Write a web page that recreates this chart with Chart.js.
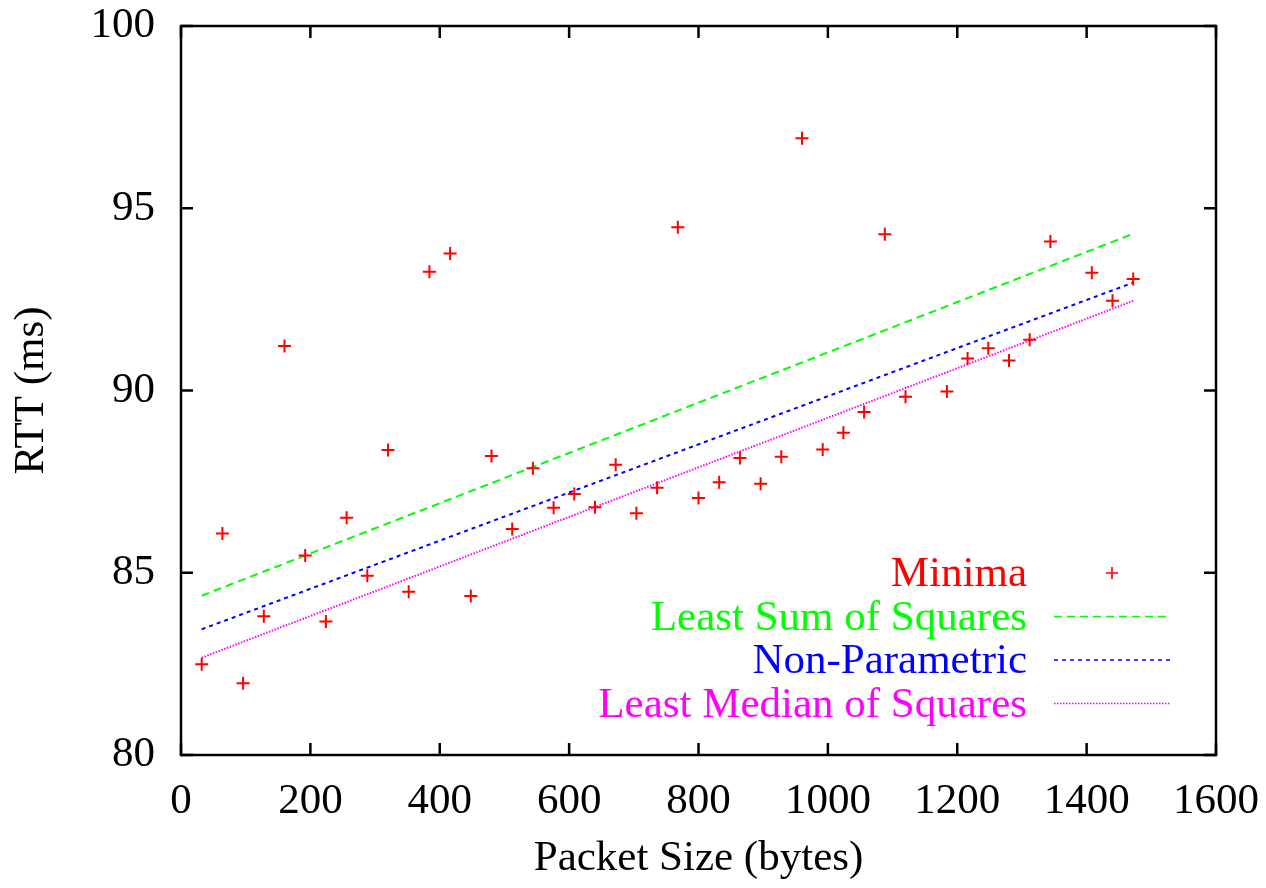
<!DOCTYPE html>
<html><head><meta charset="utf-8">
<script src="https://cdn.jsdelivr.net/npm/chart.js@4.4.0/dist/chart.umd.min.js"></script>
<style>html,body{margin:0;padding:0;background:#fff}#wrap{width:1266px;height:888px}</style>
</head><body><div id="wrap"><canvas id="c" width="1266" height="888"></canvas></div>
<script>
const packetSizes = [32,64,96,128,160,192,224,256,288,320,352,384,416,448,480,512,544,576,608,640,672,704,736,768,800,832,864,896,928,960,992,1024,1056,1088,1120,1184,1216,1248,1280,1312,1344,1408,1440,1472];
const minimaRTT = [82.49,86.08,81.97,83.81,91.22,85.47,83.66,86.51,84.92,88.37,84.48,93.26,93.76,84.36,88.20,86.20,87.87,86.78,87.16,86.80,87.96,86.63,87.33,94.48,87.05,87.48,88.15,87.44,88.18,96.92,88.38,88.84,89.41,94.29,89.83,89.97,90.88,91.16,90.82,91.39,94.09,93.23,92.46,93.06];
const fitX = [32, 1472];
const lssY = [84.37, 94.30];
const npY = [83.45, 92.96];
const lmsY = [82.67, 92.46];
const xTicks = [0,200,400,600,800,1000,1200,1400,1600];
const yTicks = [80,85,90,95,100];
const seriesLabels = ['Minima','Least Sum of Squares','Non-Parametric','Least Median of Squares'];

const FONT = 'Liberation Serif, Times New Roman, serif';
const FS = 43;
const pts = (xs, ys) => xs.map((x, i) => ({x, y: ys[i]}));

const framePlugin = {
  id: 'frame',
  afterDatasetsDraw(chart) {
    const {ctx, chartArea: a, scales: {x, y}} = chart;
    ctx.save();
    ctx.strokeStyle = '#000';
    ctx.lineWidth = 2.5;
    ctx.strokeRect(a.left, a.top, a.right - a.left, a.bottom - a.top);
    const tl = 12;
    ctx.beginPath();
    xTicks.forEach(v => {
      const px = x.getPixelForValue(v);
      ctx.moveTo(px, a.bottom); ctx.lineTo(px, a.bottom - tl);
      ctx.moveTo(px, a.top); ctx.lineTo(px, a.top + tl);
    });
    yTicks.forEach(v => {
      const py = y.getPixelForValue(v);
      ctx.moveTo(a.left, py); ctx.lineTo(a.left + tl, py);
      ctx.moveTo(a.right, py); ctx.lineTo(a.right - tl, py);
    });
    ctx.stroke();

    // legend
    const ds = chart.data.datasets;
    const textRight = a.right - 189;
    const sx0 = a.right - 162, sx1 = a.right - 46;
    const rowY0 = a.bottom - 182, step = 43.5;
    ctx.font = FS + 'px ' + FONT;
    ctx.textAlign = 'right';
    ctx.textBaseline = 'middle';
    ds.forEach((d, i) => {
      const ry = rowY0 + i * step;
      ctx.fillStyle = d.borderColor;
      ctx.fillText(d.label, textRight, ry + 2);
      ctx.strokeStyle = d.borderColor;
      ctx.lineWidth = i === 0 ? 1.6 : 1.5;
      ctx.setLineDash(d.borderDash || []);
      ctx.beginPath();
      if (i === 0) {
        const cx = a.right - 104, r = 6;
        ctx.moveTo(cx - r, ry); ctx.lineTo(cx + r, ry);
        ctx.moveTo(cx, ry - r); ctx.lineTo(cx, ry + r);
      } else {
        ctx.moveTo(sx0, ry); ctx.lineTo(sx1, ry);
      }
      ctx.stroke();
      ctx.setLineDash([]);
    });
    ctx.restore();
  }
};

new Chart(document.getElementById('c'), {
  type: 'scatter',
  data: {
    datasets: [
      {label: seriesLabels[0], data: pts(packetSizes, minimaRTT), pointStyle: 'cross', pointRadius: 6.5, pointHoverRadius: 6.5,
       borderColor: '#ff0000', backgroundColor: '#ff0000', borderWidth: 2, showLine: false},
      {label: seriesLabels[1], data: pts(fitX, lssY), showLine: true, pointRadius: 0, borderColor: '#00ff00', borderWidth: 2, borderDash: [8, 5]},
      {label: seriesLabels[2], data: pts(fitX, npY), showLine: true, pointRadius: 0, borderColor: '#0000ff', borderWidth: 2, borderDash: [4, 4]},
      {label: seriesLabels[3], data: pts(fitX, lmsY), showLine: true, pointRadius: 0, borderColor: '#ff00ff', borderWidth: 2, borderDash: [1.5, 1.5]}
    ]
  },
  options: {
    responsive: false,
    animation: false,
    devicePixelRatio: 1,
    layout: {padding: {top: 26, right: 50, left: 0, bottom: 0}},
    plugins: {legend: {display: false}, tooltip: {enabled: false}},
    events: [],
    scales: {
      x: {
        type: 'linear', min: 0, max: 1600,
        afterBuildTicks: s => { s.ticks = xTicks.map(v => ({value: v})); },
        ticks: {font: {family: FONT, size: FS}, color: '#000', padding: 21, maxRotation: 0, autoSkip: false,
                callback: v => String(v)},
        grid: {display: false, drawTicks: false},
        border: {display: false},
        title: {display: true, text: 'Packet Size (bytes)', font: {family: FONT, size: FS}, color: '#000', padding: {bottom: 3}},
        afterFit: s => { s.height = 133; s.paddingLeft = 0; s.paddingRight = 0; }
      },
      y: {
        type: 'linear', min: 80, max: 100,
        afterBuildTicks: s => { s.ticks = yTicks.map(v => ({value: v})); },
        ticks: {font: {family: FONT, size: FS}, color: '#000', padding: 26, callback: v => String(v)},
        grid: {display: false, drawTicks: false},
        border: {display: false},
        title: {display: true, text: 'RTT (ms)', font: {family: FONT, size: FS}, color: '#000', padding: {top: 6}},
        afterFit: s => { s.width = 181; s.paddingTop = 0; s.paddingBottom = 0; }
      }
    }
  },
  plugins: [framePlugin]
});
</script>
</body></html>
